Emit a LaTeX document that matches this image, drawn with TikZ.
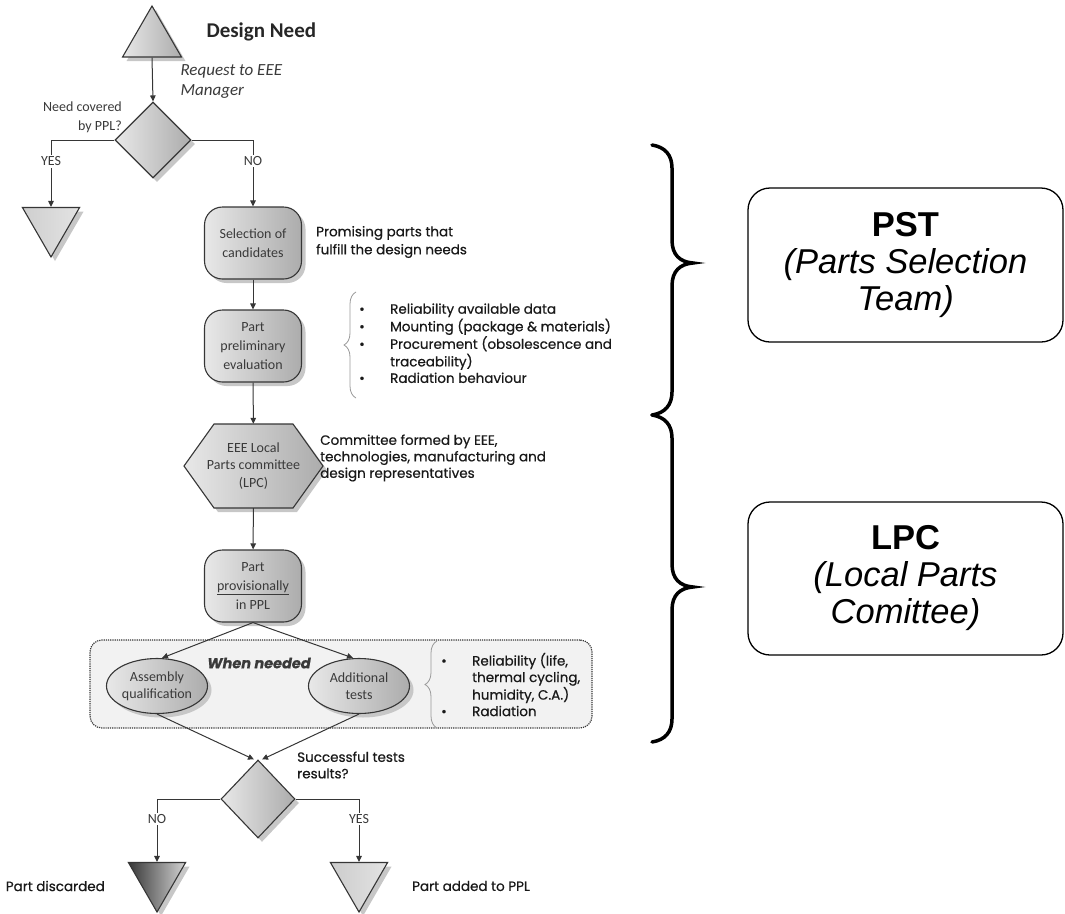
\documentclass[tikz,border=0pt]{standalone}
\usepackage{fontspec}
\setmainfont{Carlito}
\newfontfamily\comicfont[FakeBold=0.6]{Poppins}
\newfontfamily\arialfont{Liberation Sans}
\usepackage{xcolor}
\usetikzlibrary{arrows.meta,positioning,shapes.geometric,shadows,decorations.pathreplacing,backgrounds}
\definecolor{edgegray}{HTML}{363636}
\definecolor{txtgray}{HTML}{3A3A3A}
\definecolor{zonegray}{HTML}{F2F2F2}

\begin{document}
\begin{tikzpicture}[
  x=1pt, y=-1pt,
  greyfill/.style={draw=edgegray, line width=1.1pt, left color=gray!18, right color=gray!65,
    drop shadow={shadow xshift=4pt, shadow yshift=-4pt, fill=black!22, opacity=1}},
  procbox/.style={greyfill, rectangle, rounded corners=18pt, minimum width=97pt, minimum height=72pt,
    inner sep=2pt, align=center, text=txtgray, font=\fontsize{14}{19}\selectfont},
  decision/.style={greyfill, diamond, minimum width=76pt, minimum height=76pt, inner sep=0pt},
  endtri/.style={greyfill, regular polygon, regular polygon sides=3, minimum size=68pt, inner sep=0pt},
  testell/.style={greyfill, ellipse, minimum width=101pt, minimum height=55pt, inner sep=0pt,
    align=center, text=txtgray, font=\fontsize{14}{17}\selectfont},
  hexnode/.style={minimum width=137pt, minimum height=84pt, inner sep=0pt, align=center,
    text=txtgray, font=\fontsize{14}{17.5}\selectfont},
  small/.style={text=txtgray, font=\fontsize{14}{19}\selectfont},
  note/.style={align=left, text=black!90, inner sep=0pt, font=\comicfont\fontsize{13.5}{16.5}\selectfont},
  yesno/.style={fill=white, inner sep=1.5pt, text=txtgray, font=\fontsize{14}{15}\selectfont},
  arr/.style={-{Triangle[length=6pt, width=5.5pt]}, line width=1pt, draw=edgegray},
  thinbrace/.style={decorate, decoration={brace, amplitude=12pt}, draw=gray!80, line width=0.8pt},
  teambrace/.style={line width=3.5pt, line cap=round},
  teambox/.style={draw, line width=1.3pt, rounded corners=22pt, minimum width=315pt, minimum height=154pt,
    align=center, font=\arialfont\fontsize{34.5}{37}\selectfont},
  zone/.style={draw=edgegray, densely dotted, line width=1.2pt, fill=zonegray, rounded corners=12pt}
]
  \useasboundingbox (0,0) rectangle (1065,913);

  % Design need and first decision
  \node[endtri] (need) at (152,40) {};
  \node[anchor=west, text=black!85, font=\bfseries\fontsize{21}{24}\selectfont] (needlbl) at (203,32) {Design Need};
  \node[anchor=west, align=left, text=txtgray, font=\itshape\fontsize{17}{20}\selectfont] (reqlbl) at (177,82) {Request to EEE\\Manager};
  \node[decision] (ppl) at (153,140) {};
  \node[small, align=right, anchor=east, inner sep=0pt] (ppllbl) at (122,117) {Need covered\\by PPL?};
  \node[endtri, shape border rotate=180, left color=gray!38, right color=gray!22, minimum size=66pt] (covered) at (51,224) {};

  % Parts selection chain
  \node[procbox] (select) at (253,243) {Selection of\\candidates};
  \node[note, anchor=west, font=\comicfont\fontsize{13.5}{18}\selectfont] (selectnote) at (316,242) {Promising parts that\\fulfill the design needs};
  \node[procbox] (prelim) at (253,346) {Part\\preliminary\\evaluation};
  \draw[thinbrace] (356,398) -- (356,292);
  \node[note, anchor=west] (prelimnote) at (359,345) {%
    \begin{tabular}{@{}p{31pt}@{}l@{}}
      \textbullet & Reliability available data\\
      \textbullet & Mounting (package \& materials)\\
      \textbullet & Procurement (obsolescence and\\
                  & traceability)\\
      \textbullet & Radiation behaviour
    \end{tabular}};

  % Local parts committee
  \path[greyfill] (184,466) -- (214,424) -- (293,424) -- (323,466) -- (293,508) -- (214,508) -- cycle;
  \node[hexnode] (lpc) at (253.5,466) {EEE Local\\Parts committee\\(LPC)};
  \node[note, anchor=west] (lpcnote) at (320,458) {Committee formed by EEE,\\technologies, manufacturing and\\design representatives};
  \node[procbox] (prov) at (253,586) {Part\\\underline{provisionally}\\in PPL};

  % Optional tests
  \node[zone, minimum width=502pt, minimum height=88pt] (needed) at (341,684) {};
  \node[text=txtgray, font=\comicfont\bfseries\itshape\fontsize{14.5}{16}\selectfont] (neededlbl) at (259,663) {When needed};
  \node[testell] (asm) at (157,686) {Assembly\\qualification};
  \node[testell] (addt) at (359,686) {Additional\\tests};
  \draw[thinbrace] (437,728) -- (437,641);
  \node[note, anchor=west] (testnote) at (441,687) {%
    \begin{tabular}{@{}p{31pt}@{}l@{}}
      \textbullet & Reliability (life,\\
                  & thermal cycling,\\
                  & humidity, C.A.)\\
      \textbullet & Radiation
    \end{tabular}};

  % Final decision
  \node[decision, minimum width=74pt, minimum height=78pt] (result) at (258,799) {};
  \node[note, anchor=west] (resultlbl) at (297,765) {Successful tests\\results?};
  \node[endtri, shape border rotate=180, left color=black!78, right color=gray!35, minimum size=66pt] (disc) at (157,879) {};
  \node[endtri, shape border rotate=180, left color=gray!40, right color=gray!22, minimum size=66pt] (added) at (359,879) {};
  \node[note, anchor=east] (disclbl) at (105,886) {Part discarded};
  \node[note, anchor=west] (addedlbl) at (412,886) {Part added to PPL};

  % Arrows
  \draw[arr] (need.south) -- (ppl.north);
  \draw[arr] (ppl.west) -| node[yesno, pos=0.66] {YES} (covered.north);
  \draw[arr] (ppl.east) -| node[yesno, pos=0.66] {NO} (select.north);
  \draw[arr] (select) -- (prelim);
  \draw[arr] (prelim) -- (lpc);
  \draw[arr] (lpc) -- (prov);
  \draw[arr] (prov.south) -- ([xshift=5pt]asm.north);
  \draw[arr] (prov.south) -- ([xshift=-6pt]addt.north);
  \draw[arr] (asm.south) -- ([xshift=-4pt]result.north);
  \draw[arr] (addt.south) -- ([xshift=4pt]result.north);
  \draw[arr] (result.west) -| node[yesno, pos=0.66] {NO} (disc.north);
  \draw[arr] (result.east) -| node[yesno, pos=0.66] {YES} (added.north);

  % Teams
  \draw[teambrace] (652,145) .. controls (665,147) and (672,155) .. (672,168) -- (672,240)
    .. controls (672,255) and (680,262) .. (693,263) .. controls (680,264) and (672,271) .. (672,286)
    -- (672,392) .. controls (672,405) and (665,413) .. (652,415);
  \draw[teambrace] (652,415) .. controls (665,417) and (672,425) .. (672,438) -- (672,564)
    .. controls (672,579) and (680,586) .. (693,587) .. controls (680,588) and (672,595) .. (672,610)
    -- (672,719) .. controls (672,732) and (665,740) .. (652,742);
  \node[teambox] (pst) at (905.5,265) {\textbf{PST}\\\textit{(Parts Selection}\\\textit{Team)}};
  \node[teambox, minimum height=153pt] (lpcteam) at (905.5,578.5) {\textbf{LPC}\\\textit{(Local Parts}\\\textit{Comittee)}};
\end{tikzpicture}
\end{document}
